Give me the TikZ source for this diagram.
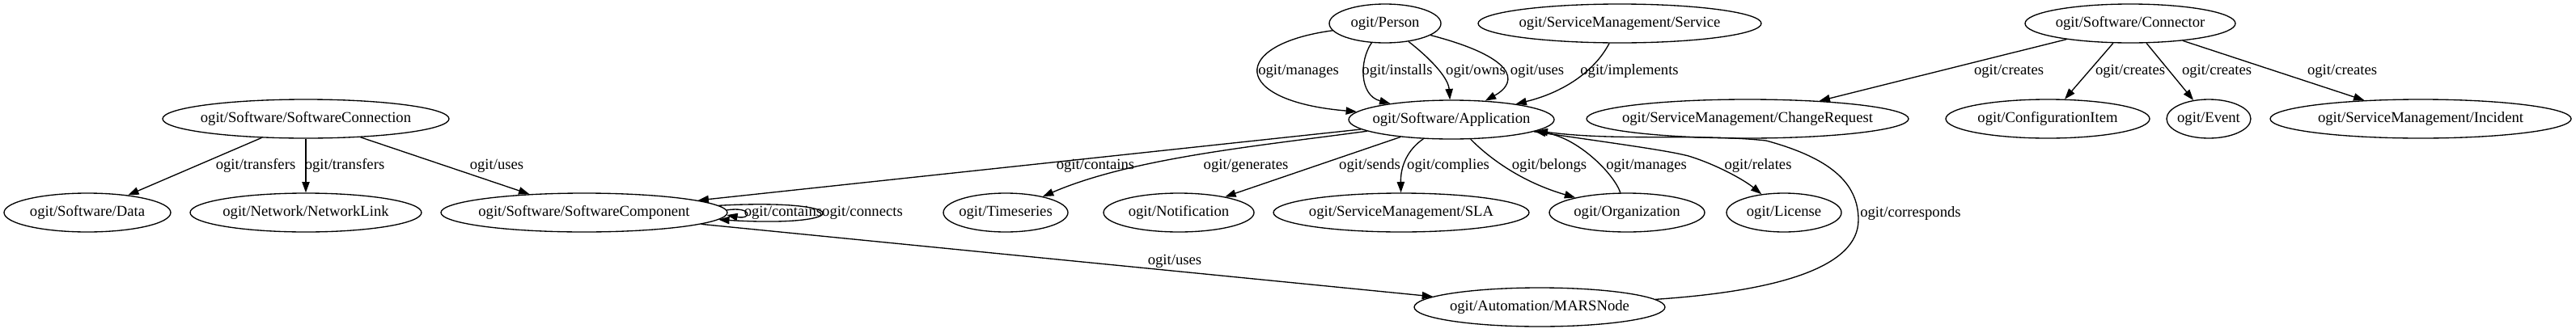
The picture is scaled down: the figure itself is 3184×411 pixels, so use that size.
\documentclass[tikz,border=0pt]{standalone}
\usepackage{fontspec}
\setmainfont{Liberation Serif}
\usetikzlibrary{shapes.geometric,arrows.meta}
\newcommand\zb[1]{\makebox[0pt]{#1}}
\begin{document}
\begin{tikzpicture}[x=0.75pt,y=-0.75pt,
  font=\fontsize{14pt}{16pt}\selectfont,
  nd/.style={ellipse,draw,line width=1pt,inner sep=0pt,minimum height=36pt},
  e/.style={line width=1pt,-{Triangle[length=10pt,width=7pt]}},
  lb/.style={inner sep=0pt}]
\useasboundingbox (0,0) rectangle (3184,411);
% row 1
\node[nd,minimum width=103.5pt] (person) at (1712,29) {\zb{ogit/Person}};
\node[nd,minimum width=262.5pt] (service) at (2002,29) {\zb{ogit/ServiceManagement/Service}};
\node[nd,minimum width=195pt] (connector) at (2633,29) {\zb{ogit/Software/Connector}};
% row 2
\node[nd,minimum width=265.5pt] (swconn) at (378,147) {\zb{ogit/Software/SoftwareConnection}};
\node[nd,minimum width=190.5pt] (app) at (1794,148) {\zb{ogit/Software/Application}};
\node[nd,minimum width=298.5pt] (change) at (2160,147) {\zb{ogit/ServiceManagement/ChangeRequest}};
\node[nd,minimum width=189pt] (ci) at (2531,147) {\zb{ogit/ConfigurationItem}};
\node[nd,minimum width=78pt] (event) at (2730,147) {\zb{ogit/Event}};
\node[nd,minimum width=279pt] (incident) at (2992,147) {\zb{ogit/ServiceManagement/Incident}};
% row 3
\node[nd,minimum width=154.5pt] (data) at (108,263) {\zb{ogit/Software/Data}};
\node[nd,minimum width=214.5pt] (netlink) at (378,263) {\zb{ogit/Network/NetworkLink}};
\node[nd,minimum width=265.5pt] (swcomp) at (722,263) {\zb{ogit/Software/SoftwareComponent}};
\node[nd,minimum width=115.5pt] (timeseries) at (1243,263) {\zb{ogit/Timeseries}};
\node[nd,minimum width=139.5pt] (notification) at (1457,263) {\zb{ogit/Notification}};
\node[nd,minimum width=237pt] (sla) at (1732,263) {\zb{ogit/ServiceManagement/SLA}};
\node[nd,minimum width=144pt] (org) at (2011,263) {\zb{ogit/Organization}};
\node[nd,minimum width=106.5pt] (license) at (2205,263) {\zb{ogit/License}};
% row 4
\node[nd,minimum width=232.5pt] (mars) at (1903,380) {\zb{ogit/Automation/MARSNode}};

% SoftwareConnection edges
\draw[e] (swconn) -- (data);
\draw[e] (swconn) -- (netlink);
\draw[e] (swconn) -- (swcomp);
\node[lb] (l1) at (316,205) {ogit/transfers};
\node[lb] (l2) at (426,205) {ogit/transfers};
\node[lb] (l3) at (614,205) {ogit/uses};

% Person edges
\draw[e] (person) .. controls (1520,55) and (1520,125) .. (app);
\draw[e] (person) .. controls (1680,75) and (1680,118) .. (app);
\draw[e] (person) .. controls (1765,70) and (1790,95) .. (app);
\draw[e] (person) .. controls (1870,70) and (1880,100) .. (app);
\draw[e] (service) .. controls (1970,90) and (1930,115) .. (app);
\node[lb] (l4) at (1605,88) {ogit/manages};
\node[lb] (l5) at (1727,88) {ogit/installs};
\node[lb] (l6) at (1824,88) {ogit/owns};
\node[lb] (l7) at (1900,88) {ogit/uses};
\node[lb] (l8) at (2014,88) {ogit/implements};

% Connector edges
\draw[e] (connector) -- (change);
\draw[e] (connector) -- (ci);
\draw[e] (connector) -- (event);
\draw[e] (connector) -- (incident);
\node[lb] (l9) at (2483,88) {ogit/creates};
\node[lb] (l10) at (2633,88) {ogit/creates};
\node[lb] (l11) at (2740,88) {ogit/creates};
\node[lb] (l12) at (2895,88) {ogit/creates};

% Application edges
\draw[e] (app) -- (swcomp);
\draw[e] (app) .. controls (1560,180) and (1400,195) .. (timeseries);
\draw[e] (app) -- (notification);
\draw[e] (app) .. controls (1740,185) and (1731,205) .. (sla);
\draw[e] (app) .. controls (1840,195) and (1880,225) .. (org);
\draw[e] (org) .. controls (1995,215) and (1950,170) .. (app);
\draw[e] (app) .. controls (2000,178) and (2060,186) .. (2087,193)
  .. controls (2120,203) and (2155,222) .. (license);
\draw[e] (mars) .. controls (2200,360) and (2297,330) .. (2297,272)
  .. controls (2297,225) and (2260,195) .. (2183,174)
  .. controls (2100,165) and (2000,175) .. (app);
\node[lb] (l13) at (1354,205) {ogit/contains};
\node[lb] (l14) at (1540,205) {ogit/generates};
\node[lb] (l15) at (1693,205) {ogit/sends};
\node[lb] (l16) at (1790,205) {ogit/complies};
\node[lb] (l17) at (1915,205) {ogit/belongs};
\node[lb] (l18) at (2035,205) {ogit/manages};
\node[lb] (l19) at (2173,205) {ogit/relates};
\node[lb,anchor=west] (l20) at (2299,264) {ogit/corresponds};

% SoftwareComponent edges
\draw[e] (swcomp) -- (mars);
\node[lb] (l21) at (1452,323) {ogit/uses};
\draw[e] (swcomp.1) .. controls (930,255) and (930,272) .. (swcomp.-1);
\draw[e] (swcomp.3.6) .. controls (1058,245) and (1058,282) .. (swcomp.-3.6);
\node[lb] (l22) at (968,263) {ogit/contains};
\node[lb] (l23) at (1066,263) {ogit/connects};
\end{tikzpicture}
\end{document}
